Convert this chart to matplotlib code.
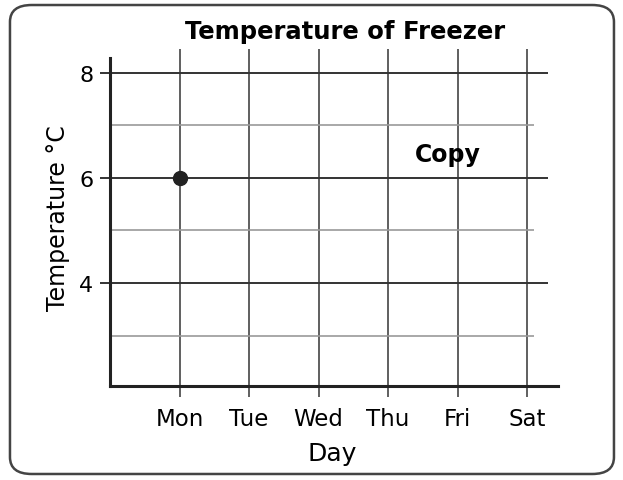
import matplotlib.pyplot as plt
from matplotlib.patches import FancyBboxPatch

# data
days = ["Mon", "Tue", "Wed", "Thu", "Fri", "Sat"]
major_ticks = [4, 6, 8]
minor_lines = [3, 5, 7]
point_day = "Mon"
point_temp = 6

x_pos = list(range(1, len(days) + 1))

fig = plt.figure(figsize=(6.23, 4.81), dpi=100)

# rounded frame around the whole chart (behind the axes)
frame = FancyBboxPatch((0.016, 0.0125), 0.9695, 0.975, transform=fig.transFigure,
                       boxstyle="round,pad=0,rounding_size=0.035",
                       facecolor="white", edgecolor="#444444", linewidth=1.8,
                       zorder=-1)
fig.patches.append(frame)

ax = fig.add_axes([0.1766, 0.1954, 0.714, 0.7006])
ax.set_xlim(0, 6.4)
ax.set_ylim(2.04, 8.45)
ax.patch.set_alpha(0)
for s in ax.spines.values():
    s.set_visible(False)

# grid
ax.vlines(x_pos, 1.83, 8.45, color="#444444", linewidth=1.2, clip_on=False)
ax.hlines(major_ticks, -0.15, 6.3, color="#333333", linewidth=1.4, clip_on=False)
ax.hlines(minor_lines, 0.03, 6.1, color="#999999", linewidth=1.2, clip_on=False)

# axes lines
ax.plot([0, 0], [2.04, 8.27], color="#222222", linewidth=2.2, clip_on=False)
ax.plot([0, 6.45], [2.04, 2.04], color="#222222", linewidth=2.2, clip_on=False)

ax.plot([x_pos[days.index(point_day)]], [point_temp], "o", color="#222222",
        markersize=10, clip_on=False)

ax.set_xticks(x_pos)
ax.set_xticklabels(days, fontsize=16.5)
ax.set_yticks(major_ticks)
ax.set_yticklabels([str(t) for t in major_ticks], fontsize=16)
ax.tick_params(axis="x", length=0, pad=15)
ax.tick_params(axis="y", length=0, pad=12)

ax.set_xlabel("Day", fontsize=18, labelpad=8)
ax.set_ylabel("Temperature °C", fontsize=17, labelpad=7)
ax.set_title("Temperature of Freezer", fontsize=17.5, fontweight="bold", pad=8, x=0.528)

ax.text(4.86, 6.46, "Copy", fontsize=17, fontweight="bold", ha="center", va="center")

plt.savefig("out.png", dpi=100)
